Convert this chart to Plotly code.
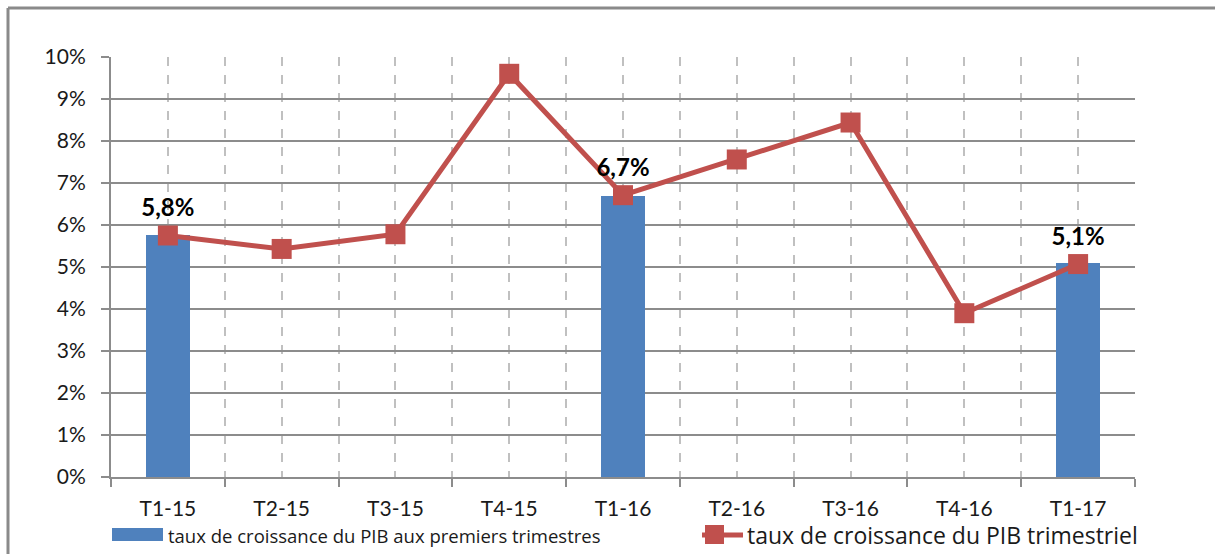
import plotly.graph_objects as go

categories = ["T1-15", "T2-15", "T3-15", "T4-15", "T1-16", "T2-16", "T3-16", "T4-16", "T1-17"]
bar_values = [0.0577, None, None, None, 0.067, None, None, None, 0.051]
line_values = [0.0575, 0.0543, 0.0578, 0.0960, 0.0671, 0.0756, 0.0844, 0.0390, 0.0507]
y_ticks = [i / 100 for i in range(0, 11)]

bar_name = "taux de croissance du PIB aux premiers trimestres"
line_name = "taux de croissance du PIB trimestriel"

BLUE = "#4F81BD"
RED = "#C0504D"
GRID = "#8c8c8c"
VGRID = "#c0c0c0"

W, H = 1215, 554
L, R, T, B = 111, 1135, 57, 477


def px(x):
    return (x - L) / (R - L)


def py(y):
    return (B - y) / (B - T)


xs = list(range(len(categories)))
labels = ["" if v is None else ("%.1f%%" % (v * 100)).replace(".", ",") for v in bar_values]

fig = go.Figure()
fig.add_trace(go.Bar(
    x=xs, y=bar_values, width=0.39, marker=dict(color=BLUE, line=dict(width=0)),
    name=bar_name, showlegend=False,
))
fig.add_trace(go.Scatter(
    x=xs, y=line_values, mode="lines+markers+text", name=line_name, showlegend=False,
    line=dict(color=RED, width=5),
    marker=dict(symbol="square", size=20, color=RED),
    text=labels, textposition="top center",
    textfont=dict(family="Lato", size=24, color="#000000", weight="bold"),
    cliponaxis=False,
))

fig.update_layout(
    width=W, height=H,
    margin=dict(l=L, r=W - R, t=T, b=H - B),
    paper_bgcolor="white", plot_bgcolor="white",
    font=dict(family="Lato", size=20, color="#1a1a1a"),
    bargap=0,
    separators=", ",
    xaxis=dict(
        range=[-0.5, len(categories) - 0.5],
        tickvals=xs, ticktext=categories, ticks="",
        showgrid=True, gridcolor=VGRID, gridwidth=2, griddash="dash",
        showline=True, linecolor=GRID, linewidth=2,
        zeroline=False,
        ticklabelstandoff=12,
        tickfont=dict(size=21),
        minor=dict(
            tickvals=[i - 0.5 for i in range(len(categories) + 1)],
            ticks="outside", ticklen=8, tickwidth=2, tickcolor=GRID,
            showgrid=True, gridcolor=VGRID, gridwidth=2, griddash="dash",
        ),
    ),
    yaxis=dict(
        range=[0, 0.10], tickvals=y_ticks, tickformat=".0%",
        showgrid=True, gridcolor=GRID, gridwidth=2,
        showline=True, linecolor=GRID, linewidth=2,
        ticks="outside", ticklen=8, tickwidth=2, tickcolor=GRID,
        zeroline=False,
        ticklabelstandoff=11,
        tickfont=dict(size=21),
    ),
    shapes=[
        # outer frame (top and left edges visible)
        dict(type="line", xref="paper", yref="paper",
             x0=px(8), x1=px(1215), y0=py(8), y1=py(8),
             line=dict(color="#8a8a8a", width=3), layer="below"),
        dict(type="line", xref="paper", yref="paper",
             x0=px(8), x1=px(8), y0=py(8), y1=py(554),
             line=dict(color="#8a8a8a", width=3), layer="below"),
        # legend: bar swatch
        dict(type="rect", xref="paper", yref="paper",
             x0=px(112), x1=px(163), y0=py(541), y1=py(528),
             line=dict(width=0), fillcolor=BLUE),
        # legend: line swatch
        dict(type="line", xref="paper", yref="paper",
             x0=px(702), x1=px(743), y0=py(535), y1=py(535),
             line=dict(color=RED, width=5)),
        dict(type="rect", xref="paper", yref="paper",
             x0=px(705), x1=px(724), y0=py(544), y1=py(525),
             line=dict(width=0), fillcolor=RED),
    ],
    annotations=[
        dict(xref="paper", yref="paper", x=px(166), y=py(535), xanchor="left", yanchor="middle",
             text=bar_name, showarrow=False, font=dict(family="Open Sans", size=18.5, color="#1a1a1a")),
        dict(xref="paper", yref="paper", x=px(745), y=py(535), xanchor="left", yanchor="middle",
             text=line_name, showarrow=False, font=dict(family="Open Sans", size=23, color="#1a1a1a")),
    ],
)

fig.write_html("out.html", config={"displayModeBar": False})
